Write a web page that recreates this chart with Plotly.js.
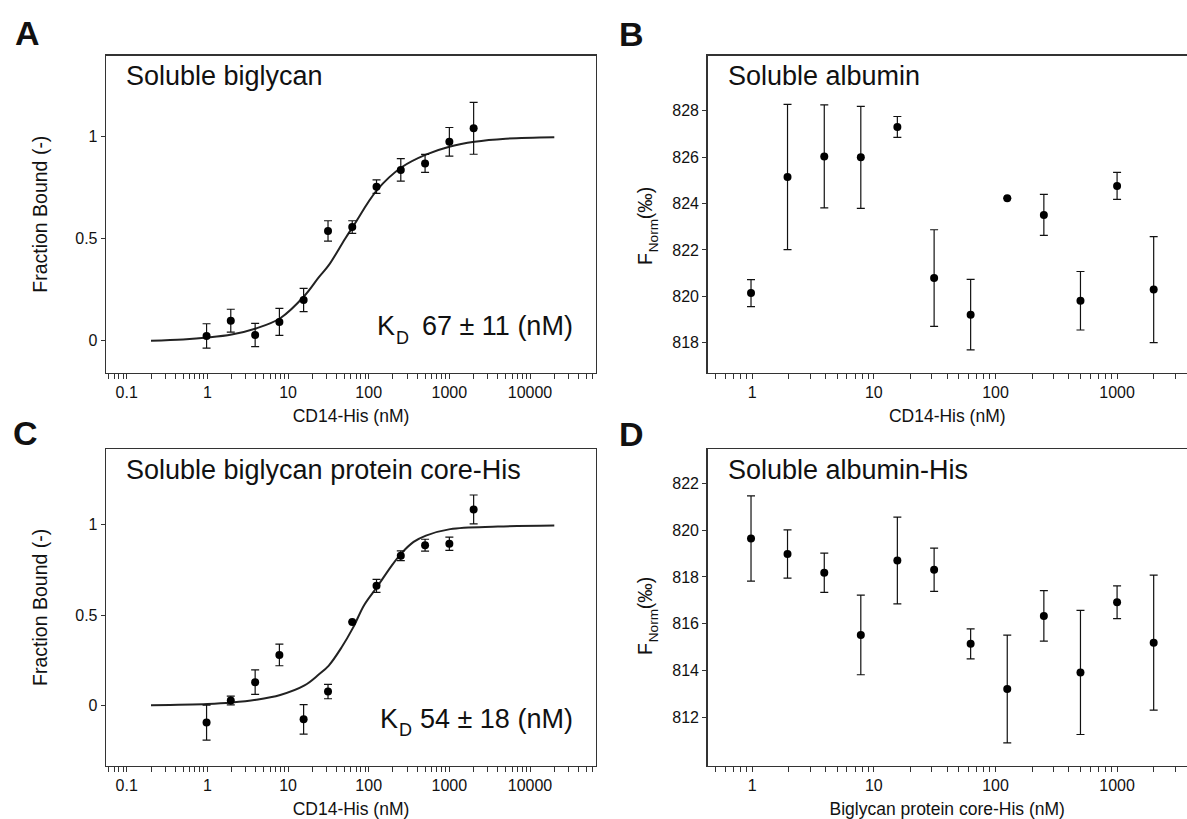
<!DOCTYPE html>
<html><head><meta charset="utf-8">
<script src="https://cdn.plot.ly/plotly-3.0.1.min.js"></script>
<style>html,body{margin:0;padding:0;overflow:hidden;background:#fff}#chart{width:1187px;height:819px}</style>
</head><body><div id="chart"></div>
<script>
// ---- data ----
const conc = [0.977, 1.95, 3.91, 7.81, 15.6, 31.3, 62.5, 125, 250, 500, 1000, 2000];

// A: Soluble biglycan
const fracA = [0.023, 0.098, 0.028, 0.092, 0.199, 0.538, 0.557, 0.755, 0.837, 0.869, 0.975, 1.041];
const errA  = [0.060, 0.056, 0.057, 0.066, 0.057, 0.050, 0.031, 0.033, 0.055, 0.044, 0.070, 0.127];
const fitAx = [0.2, 0.5, 1, 2, 4, 8, 16, 24, 32, 51, 64, 128, 256, 512, 1024, 2048, 5000, 20000];
const fitAy = [0.0, 0.006, 0.015, 0.03, 0.06, 0.11, 0.22, 0.31, 0.37, 0.5, 0.56, 0.74, 0.85, 0.912, 0.952, 0.975, 0.99, 0.997];

// B: Soluble albumin
const fnormB = [820.14, 825.14, 826.03, 825.99, 827.30, 820.79, 819.21, 824.23, 823.51, 819.81, 824.76, 820.29];
const errB   = [0.58, 3.13, 2.22, 2.20, 0.45, 2.08, 1.52, 0.0, 0.88, 1.26, 0.58, 2.28];

// C: Soluble biglycan protein core-His
const fracC = [-0.096, 0.026, 0.128, 0.279, -0.078, 0.076, 0.462, 0.662, 0.828, 0.887, 0.895, 1.085];
const errC  = [0.097, 0.024, 0.068, 0.060, 0.082, 0.040, 0.0, 0.036, 0.027, 0.033, 0.037, 0.080];
const fitCx = [0.2, 1, 2, 4, 8, 16, 24, 32, 46, 64, 88, 128, 190, 256, 360, 512, 1024, 4000, 20000];
const fitCy = [0.0, 0.007, 0.015, 0.03, 0.057, 0.11, 0.17, 0.22, 0.32, 0.43, 0.556, 0.658, 0.77, 0.843, 0.905, 0.94, 0.976, 0.99, 0.996];

// D: Soluble albumin-His
const fnormD = [819.64, 818.98, 818.18, 815.53, 818.70, 818.31, 815.15, 813.22, 816.34, 813.93, 816.92, 815.20];
const errD   = [1.82, 1.03, 0.84, 1.70, 1.85, 0.92, 0.64, 2.30, 1.08, 2.65, 0.70, 2.88];

// tick labels
const decadeValsAC = [0.1, 1, 10, 100, 1000, 10000];
const decadeLabelsAC = ['0.1', '1', '10', '100', '1000', '10000'];
const decadeValsBD = [1, 10, 100, 1000];
const decadeLabelsBD = ['1', '10', '100', '1000'];
const yTicksAC = [0, 0.5, 1];
const yTickTextAC = ['0', '0.5', '1'];
const yTicksB = [818, 820, 822, 824, 826, 828];
const yTicksD = [812, 814, 816, 818, 820, 822];

// ---- helpers ----
const W = 1187, H = 819;
const px = x => x / W;
const py = y => 1 - y / H;

function minorLogTicks(loExp, hiExp) {
  const vals = [];
  for (let e = Math.floor(loExp); e <= Math.ceil(hiExp); e++) {
    for (let m = 2; m <= 9; m++) {
      const v = m * Math.pow(10, e);
      const lv = Math.log10(v);
      if (lv >= loExp && lv <= hiExp) vals.push(v);
    }
  }
  return vals;
}

const rangeAC = [-1.257, 4.818];
const rangeBD = [-0.368, 3.575];

const axisCommon = {
  showline: true, linecolor: '#333', linewidth: 1.3,
  ticks: 'outside', tickcolor: '#333', tickwidth: 1,
  showgrid: false, zeroline: false, automargin: false,
  tickfont: {size: 16, color: '#111'}, fixedrange: true
};

function xLog(domain, range, vals, labels, anchor, title) {
  return Object.assign({}, axisCommon, {
    type: 'log', domain, range, anchor, mirror: true, ticklen: 5,
    tickmode: 'array', tickvals: vals, ticktext: labels,
    title: {text: title, font: {size: 17.5, color: '#111'}, standoff: 9},
    minor: {tickmode: 'array', tickvals: minorLogTicks(range[0], range[1]), ticks: 'outside',
            ticklen: 5, tickwidth: 1, tickcolor: '#333', showgrid: false}
  });
}
function yLin(domain, range, vals, text, anchor, mirror, title, standoff) {
  const ax = Object.assign({}, axisCommon, {
    domain, range, anchor, mirror, ticklen: 4,
    tickmode: 'array', tickvals: vals, ticktext: text
  });
  if (title) ax.title = {text: title, font: {size: 19.5, color: '#111'}, standoff};
  return ax;
}

const errStyle = arr => ({type: 'data', array: arr, visible: true, color: '#111', thickness: 1.2, width: 4});
const mk = {color: '#000', size: 8};
const fitLine = {color: '#222', width: 2, shape: 'spline', smoothing: 1};

const traces = [
  {x: fitAx, y: fitAy, mode: 'lines', line: fitLine, xaxis: 'x', yaxis: 'y', hoverinfo: 'skip'},
  {x: conc, y: fracA, mode: 'markers', marker: mk, error_y: errStyle(errA), xaxis: 'x', yaxis: 'y'},
  {x: conc, y: fnormB, mode: 'markers', marker: mk, error_y: errStyle(errB), xaxis: 'x2', yaxis: 'y2'},
  {x: fitCx, y: fitCy, mode: 'lines', line: fitLine, xaxis: 'x3', yaxis: 'y3', hoverinfo: 'skip'},
  {x: conc, y: fracC, mode: 'markers', marker: mk, error_y: errStyle(errC), xaxis: 'x3', yaxis: 'y3'},
  {x: conc, y: fnormD, mode: 'markers', marker: mk, error_y: errStyle(errD), xaxis: 'x4', yaxis: 'y4'}
];

const topRow = [py(372.7), py(55.7)];
const botRow = [py(765.7), py(449)];
const leftCol = [px(106), px(596)];
const rightCol = [px(707.5), 1];

function ann(text, x, y, size, opts) {
  return Object.assign({text, x: px(x), y: py(y), xref: 'paper', yref: 'paper', showarrow: false,
    xanchor: 'center', yanchor: 'middle', font: {size, color: '#111'}}, opts || {});
}

// F_Norm(‰) composed of three rotated pieces (subscript smaller and shifted)
function fnormTitle(cy) {
  const bottom = cy + 38.9;
  return [
    ann('F', 645, bottom - 6, 19.5, {textangle: -90}),
    ann('Norm', 653, bottom - 11.9 - 16.7, 13.65, {textangle: -90}),
    ann('(‰)', 645, bottom - 11.9 - 33.4 - 16.25, 19.5, {textangle: -90})
  ];
}

const annotations = [
  ann('<b>A</b>', 27, 33, 34), ann('<b>B</b>', 631, 34, 34),
  ann('<b>C</b>', 25, 433, 34), ann('<b>D</b>', 631, 434, 34),
  ann('Soluble biglycan', 124, 76, 27, {xanchor: 'left'}),
  ann('Soluble albumin', 726, 76, 27, {xanchor: 'left'}),
  ann('Soluble biglycan protein core-His', 124, 470, 27, {xanchor: 'left'}),
  ann('Soluble albumin-His', 726, 470, 27, {xanchor: 'left'}),
  // K_D 67 ± 11 (nM)
  ann('K', 375, 326, 27, {xanchor: 'left'}),
  ann('D', 394, 338, 18, {xanchor: 'left'}),
  ann('67 ± 11 (nM)', 575, 326, 27, {xanchor: 'right'}),
  // K_D 54 ± 18 (nM)
  ann('K', 378, 719, 27, {xanchor: 'left'}),
  ann('D', 397, 730, 18, {xanchor: 'left'}),
  ann('54 ± 18 (nM)', 575, 719, 27, {xanchor: 'right'})
].concat(fnormTitle(226), fnormTitle(616));

const layout = {
  width: W, height: H, margin: {l: 0, r: 0, t: 0, b: 0}, showlegend: false,
  paper_bgcolor: '#fff', plot_bgcolor: '#fff',
  font: {family: 'Liberation Sans, Arial, Helvetica, sans-serif', color: '#111'},
  xaxis: xLog(leftCol, rangeAC, decadeValsAC, decadeLabelsAC, 'y', 'CD14-His (nM)'),
  yaxis: yLin(topRow, [-0.157, 1.397], yTicksAC, yTickTextAC, 'x', true, 'Fraction Bound (-)', 22),
  xaxis2: xLog(rightCol, rangeBD, decadeValsBD, decadeLabelsBD, 'y2', 'CD14-His (nM)'),
  yaxis2: yLin(topRow, [816.71, 830.37], yTicksB, yTicksB.map(String), 'x2', false, null, 0),
  xaxis3: xLog(leftCol, rangeAC, decadeValsAC, decadeLabelsAC, 'y3', 'CD14-His (nM)'),
  yaxis3: yLin(botRow, [-0.335, 1.42], yTicksAC, yTickTextAC, 'x3', true, 'Fraction Bound (-)', 22),
  xaxis4: xLog(rightCol, rangeBD, decadeValsBD, decadeLabelsBD, 'y4', 'Biglycan protein core-His (nM)'),
  yaxis4: yLin(botRow, [809.95, 823.46], yTicksD, yTicksD.map(String), 'x4', false, null, 0),
  annotations
};

Plotly.newPlot('chart', traces, layout, {displayModeBar: false, staticPlot: true});
</script>
</body></html>
